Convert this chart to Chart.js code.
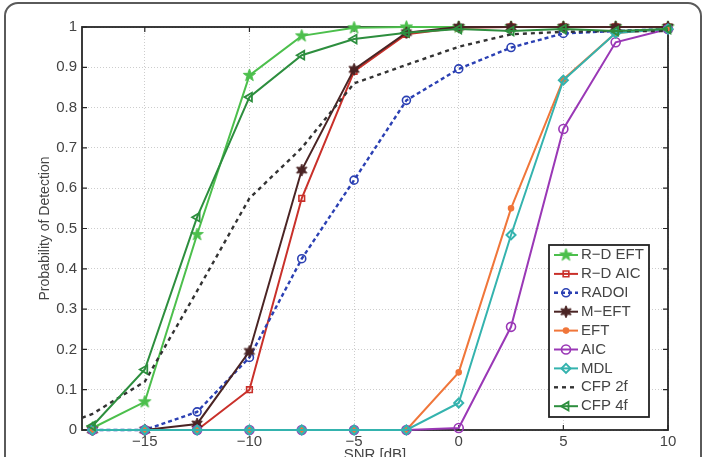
<!DOCTYPE html>
<html>
<head>
<meta charset="utf-8">
<script src="https://cdn.jsdelivr.net/npm/chart.js@4.4.1/dist/chart.umd.min.js"></script>
<style>
html, body { margin: 0; padding: 0; background: #fff; }
#wrap { position: relative; width: 708px; height: 457px; overflow: hidden; }
#frame { position: absolute; left: 4px; top: 2px; width: 694px; height: 480px; border: 2px solid #5a5a5a; border-radius: 14px; }
canvas { position: absolute; left: 0; top: 0; }
</style>
</head>
<body>
<div id="wrap"><div id="frame"></div><canvas id="c" width="708" height="457"></canvas></div>
<script>
// ---- data ----
const snr = [-17.5, -15, -12.5, -10, -7.5, -5, -2.5, 0, 2.5, 5, 7.5, 10];
const rdEft = [0.005, 0.07, 0.485, 0.88, 0.978, 0.998, 1, 1, 1, 1, 1, 1];
const rdAic = [0, 0, 0, 0.1, 0.575, 0.89, 0.982, 0.998, 1, 1, 1, 1];
const radoi = [0, 0, 0.045, 0.18, 0.425, 0.62, 0.818, 0.896, 0.949, 0.984, 0.99, 0.995];
const mEft = [0, 0, 0.015, 0.195, 0.645, 0.895, 0.986, 1, 1, 1, 1, 1];
const eft = [0, 0, 0, 0, 0, 0, 0, 0.143, 0.55, 0.87, 0.985, 0.995];
const aic = [0, 0, 0, 0, 0, 0, 0, 0.005, 0.256, 0.747, 0.962, 0.995];
const mdl = [0, 0, 0, 0, 0, 0, 0, 0.067, 0.484, 0.868, 0.985, 0.995];
const cfp2fSnr = [-18, -17.5, -15, -12.5, -10, -7.5, -5, -2.5, 0, 2.5, 5, 7.5, 10];
const cfp2f = [0.03, 0.04, 0.12, 0.345, 0.575, 0.70, 0.86, 0.906, 0.951, 0.982, 0.988, 0.99, 0.99];
const cfp4f = [0.01, 0.15, 0.528, 0.826, 0.93, 0.97, 0.986, 0.995, 0.99, 0.995, 0.99, 0.995];

const xTicks = [-15, -10, -5, 0, 5, 10];
const yTicks = [0, 0.1, 0.2, 0.3, 0.4, 0.5, 0.6, 0.7, 0.8, 0.9, 1];

const FONT = '"Liberation Sans", Arial, sans-serif';
Chart.defaults.font.family = FONT;
Chart.defaults.color = '#444';

// star markers (matlab pentagram / hexagram look)
function starImg(color, n, ro, ri) {
    const s = Math.ceil(ro * 2 + 4);
    const c = document.createElement('canvas');
    c.width = s; c.height = s;
    const g = c.getContext('2d');
    g.translate(s / 2, s / 2);
    g.beginPath();
    for (let i = 0; i < n * 2; i++) {
        const r = i % 2 ? ri : ro;
        const a = -Math.PI / 2 + i * Math.PI / n;
        g.lineTo(r * Math.cos(a), r * Math.sin(a));
    }
    g.closePath();
    g.fillStyle = color;
    g.fill();
    g.strokeStyle = color;
    g.lineWidth = 1;
    g.stroke();
    return c;
}

function series(label, xs, ys, color, style, extra) {
    return Object.assign({
        label: label,
        data: xs.map((x, i) => ({ x: x, y: ys[i] })),
        borderColor: color,
        backgroundColor: color,
        borderWidth: 2,
        pointStyle: style,
        pointRadius: 4,
        pointBorderColor: color,
        pointBackgroundColor: 'rgba(255,255,255,0)',
        pointBorderWidth: 1.6,
        tension: 0,
        fill: false,
        clip: false
    }, extra || {});
}

const datasets = [
    series('R\u2212D EFT', snr, rdEft, '#4cbf4c', starImg('#4cbf4c', 5, 6.5, 2.6), { pointRadius: 6 }),
    series('R\u2212D AIC', snr, rdAic, '#c9302a', 'rect', { pointRadius: 4 }),
    series('RADOI', snr, radoi, '#2b40b3', 'circle', { borderDash: [4, 3], borderWidth: 2.4, pointRadius: 4 }),
    series('M\u2212EFT', snr, mEft, '#4a2424', starImg('#4a2424', 6, 6, 3), { pointRadius: 6 }),
    series('EFT', snr, eft, '#f0763a', 'circle', { pointRadius: 2.5, pointBackgroundColor: '#f0763a' }),
    series('AIC', snr, aic, '#9a38b6', 'circle', { pointRadius: 4.5 }),
    series('MDL', snr, mdl, '#34b3ae', 'rectRot', { pointRadius: 4.5, pointBorderWidth: 2 }),
    series('CFP 2f', cfp2fSnr, cfp2f, '#333333', 'circle', { borderDash: [4, 4], borderWidth: 2.4, pointRadius: 0 }),
    series('CFP 4f', snr, cfp4f, '#2d8e3e', 'triangle', { pointRadius: 5, pointRotation: -90, pointBorderWidth: 1.8 })
];
// later series on top, like matlab
datasets.forEach((d, i) => { d.order = datasets.length - i; });

// box + inward ticks on all four sides
const axesBox = {
    id: 'axesBox',
    beforeDatasetsDraw(chart) {
        const { ctx, chartArea: a, scales } = chart;
        const sx = scales.x, sy = scales.y;
        ctx.save();
        ctx.strokeStyle = '#262626';
        ctx.lineWidth = 1.8;
        ctx.strokeRect(a.left, a.top, a.right - a.left, a.bottom - a.top);
        ctx.lineWidth = 1.2;
        ctx.beginPath();
        xTicks.forEach(v => {
            const p = sx.getPixelForValue(v);
            ctx.moveTo(p, a.bottom); ctx.lineTo(p, a.bottom - 5);
            ctx.moveTo(p, a.top); ctx.lineTo(p, a.top + 5);
        });
        yTicks.forEach(v => {
            const p = sy.getPixelForValue(v);
            ctx.moveTo(a.left, p); ctx.lineTo(a.left + 5, p);
            ctx.moveTo(a.right, p); ctx.lineTo(a.right - 5, p);
        });
        ctx.stroke();
        ctx.restore();
    }
};

// legend box in the lower right of the axes
const legendBox = {
    id: 'legendBox',
    afterDraw(chart) {
        const { ctx, chartArea: a } = chart;
        const w = 100, h = 172;
        const x0 = a.right - 19 - w, y0 = a.bottom - 13 - h;
        ctx.save();
        ctx.fillStyle = '#fff';
        ctx.fillRect(x0, y0, w, h);
        ctx.strokeStyle = '#222';
        ctx.lineWidth = 1.8;
        ctx.strokeRect(x0, y0, w, h);
        ctx.font = '15px ' + FONT;
        ctx.textBaseline = 'middle';
        chart.data.datasets.forEach((ds, i) => {
            const y = y0 + 10 + i * 18.9;
            ctx.setLineDash(ds.borderDash || []);
            ctx.strokeStyle = ds.borderColor;
            ctx.lineWidth = ds.borderWidth;
            ctx.beginPath();
            ctx.moveTo(x0 + 5, y);
            ctx.lineTo(x0 + 29, y);
            ctx.stroke();
            ctx.setLineDash([]);
            if (ds.pointRadius > 0) {
                ctx.fillStyle = ds.pointBackgroundColor;
                ctx.strokeStyle = ds.pointBorderColor;
                ctx.lineWidth = ds.pointBorderWidth;
                Chart.helpers.drawPoint(ctx, {
                    pointStyle: ds.pointStyle,
                    rotation: ds.pointRotation || 0,
                    radius: ds.pointRadius,
                    borderWidth: ds.pointBorderWidth
                }, x0 + 17, y);
            }
            ctx.fillStyle = '#444';
            ctx.fillText(ds.label, x0 + 32, y);
        });
        ctx.restore();
    }
};

new Chart(document.getElementById('c'), {
    type: 'line',
    data: { datasets: datasets },
    plugins: [axesBox, legendBox],
    options: {
        responsive: false,
        animation: false,
        events: [],
        layout: { padding: { top: 27, right: 40, left: 0, bottom: 0 } },
        plugins: { legend: { display: false }, tooltip: { enabled: false } },
        scales: {
            x: {
                type: 'linear',
                min: -18,
                max: 10,
                afterBuildTicks: s => { s.ticks = xTicks.map(v => ({ value: v })); },
                afterFit: s => { s.height = 27; },
                ticks: {
                    padding: 3,
                    font: { size: 15 },
                    color: '#444',
                    callback: v => (v < 0 ? '\u2212' + Math.abs(v) : String(v))
                },
                grid: { color: '#cdcdcd', lineWidth: 1, drawTicks: false },
                border: { display: false, dash: [1, 2] },
                title: { display: true, text: 'SNR [dB]', font: { size: 15 }, color: '#444', padding: { top: 0, bottom: -7 } }
            },
            y: {
                type: 'linear',
                min: 0,
                max: 1,
                afterBuildTicks: s => { s.ticks = yTicks.map(v => ({ value: v })); },
                afterFit: s => { s.width = 82; },
                ticks: {
                    padding: 5,
                    font: { size: 15 },
                    color: '#444',
                    callback: v => (v === 0 || v === 1 ? String(v) : v.toFixed(1))
                },
                grid: { color: '#cdcdcd', lineWidth: 1, drawTicks: false },
                border: { display: false, dash: [1, 2] },
                title: { display: true, text: 'Probability of Detection', font: { size: 14 }, color: '#444', padding: { top: 37, bottom: 0 } }
            }
        }
    }
});
</script>
</body>
</html>
